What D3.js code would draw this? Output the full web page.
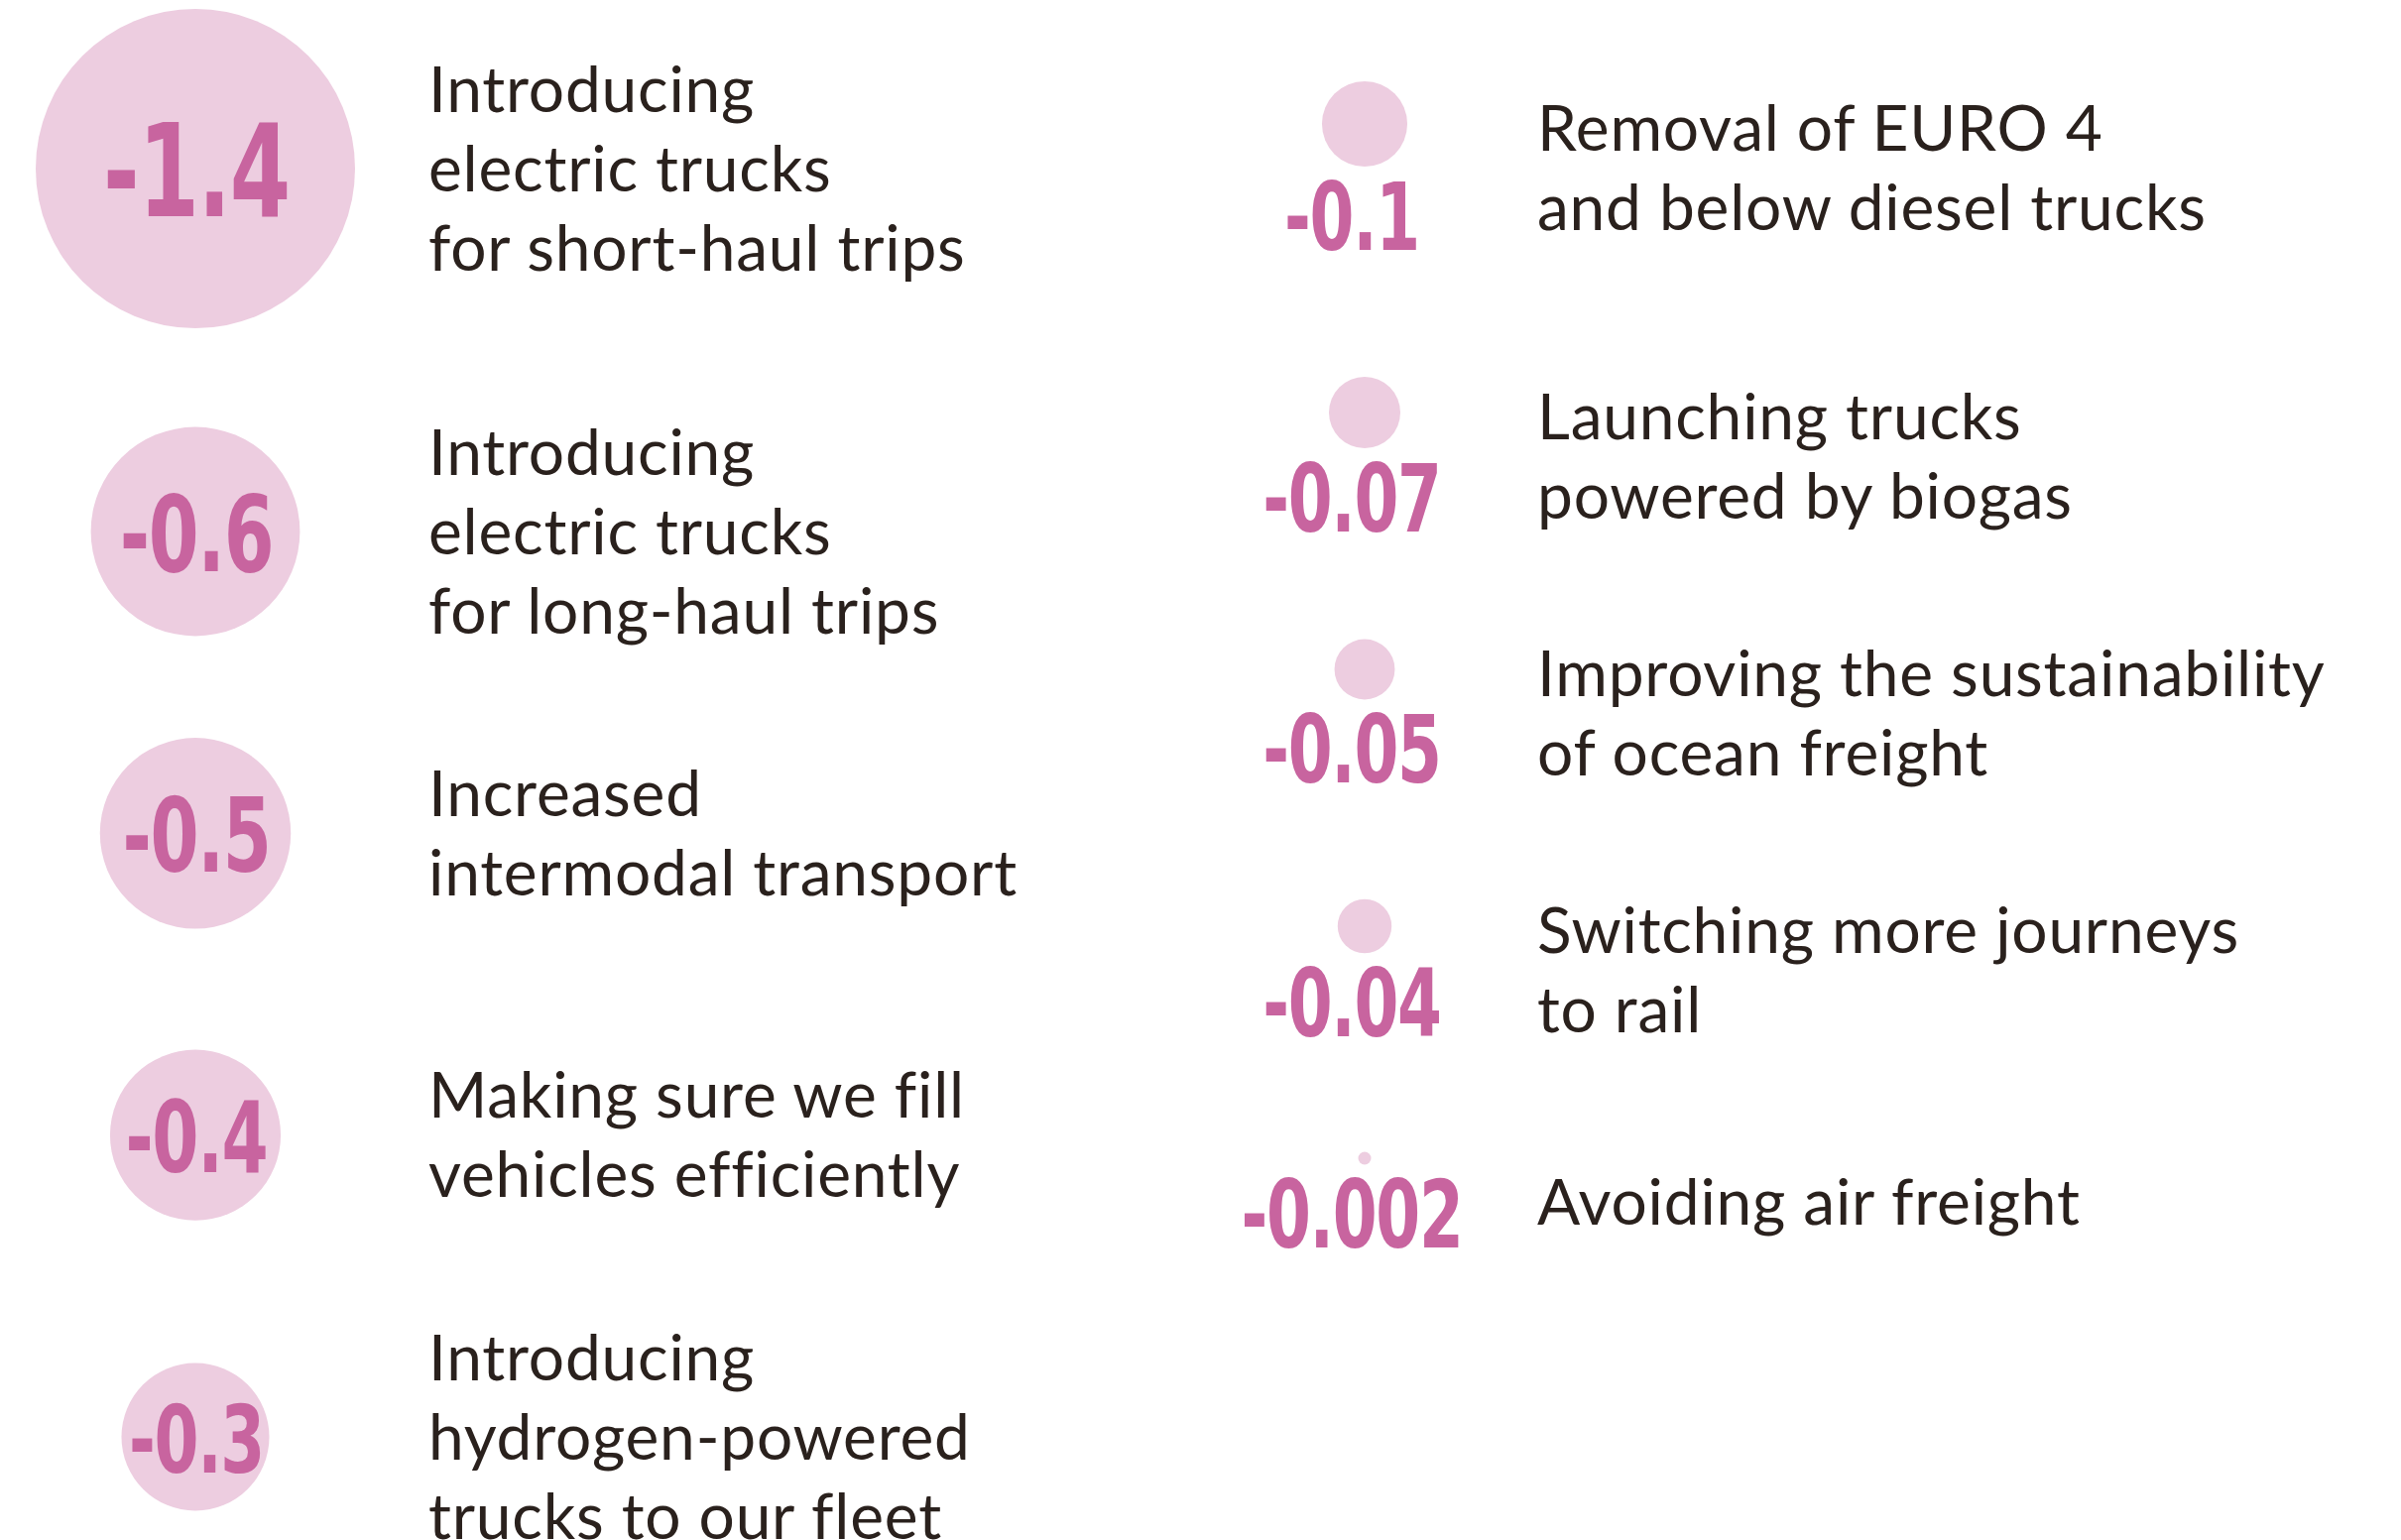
<!DOCTYPE html>
<html>
<head>
<meta charset="utf-8">
<script src="https://cdn.jsdelivr.net/npm/d3@7"></script>
<style>
  body { margin: 0; background: #ffffff; }
  .name { font-family: Lato, "Open Sans", sans-serif; font-size: 64px; letter-spacing: 0.8px; fill: #2a211d; }
  .value { font-family: "DejaVu Sans", sans-serif; font-weight: bold; fill: #c8649f; letter-spacing: -2px; }
</style>
</head>
<body>
<svg id="chart"></svg>
<script>
// left column: the big measures
var leftNames = [
    "Introducing\nelectric trucks\nfor short-haul trips",
    "Introducing\nelectric trucks\nfor long-haul trips",
    "Increased\nintermodal transport",
    "Making sure we fill\nvehicles efficiently",
    "Introducing\nhydrogen-powered\ntrucks to our fleet"
]
var leftValues = [-1.4, -0.6, -0.5, -0.4, -0.3]

// right column: the small measures
var rightNames = [
    "Removal of EURO 4\nand below diesel trucks",
    "Launching trucks\npowered by biogas",
    "Improving the sustainability\nof ocean freight",
    "Switching more journeys\nto rail",
    "Avoiding air freight"
]
var rightValues = [-0.1, -0.07, -0.05, -0.04, -0.002]

var screen = { width: 2421, height: 1553 }
var lineHeight = 80
var capHeight = 45
var squeeze = 0.68   // the value font is a narrow hand-lettered one

var svg = d3.select("#chart")
    .attr("width", screen.width)
    .attr("height", screen.height)

// bubble area is proportional to the saving
var rScale = d3.scaleSqrt()
    .domain([0, 1.4])
    .range([0, 161])

// label size grows with the bubble
var fontScale = d3.scaleLinear()
    .domain([74, 161])
    .range([95, 130])
    .clamp(true)

var leftY = d3.scaleLinear()
    .domain([0, 1, 4])
    .range([170, 536, 1449])

var rightY = d3.scaleLinear()
    .domain([0, 1, 3, 4])
    .range([169, 460, 978, 1212])

var makeTranslateString = function (x, y) {
    return "translate(" + x + "," + y + ")";
}

//writes a multi-line name, vertically centred on y
var drawName = function (target, name, x, y) {
    var lines = name.split("\n")
    var first = y - ((lines.length - 1) * lineHeight - capHeight) / 2
    var text = target.append("text")
        .classed("name", true)
        .attr("x", x)
        .attr("y", first)
    lines.forEach(function (line, i) {
        text.append("tspan")
            .attr("x", x)
            .attr("y", first + i * lineHeight)
            .text(line)
    })
}

var valueText = function (v) {
    return String(v)
}

// left column: label inside the bubble
var left = svg.append("g").classed("left", true)
var leftRows = left.selectAll("g")
    .data(leftValues)
    .enter()
    .append("g")
    .attr("transform", function (v, i) {
        return makeTranslateString(0, leftY(i))
    })

leftRows.append("circle")
    .attr("cx", 197)
    .attr("cy", 0)
    .attr("r", function (v) { return rScale(Math.abs(v)) })
    .attr("fill", "#edcde0")

leftRows.append("text")
    .classed("value", true)
    .attr("transform", makeTranslateString(198, 3) + " scale(" + squeeze + ",1)")
    .attr("text-anchor", "middle")
    .attr("dominant-baseline", "central")
    .attr("font-size", function (v) { return fontScale(rScale(Math.abs(v))) })
    .text(valueText)

leftRows.each(function (v, i) {
    drawName(d3.select(this), leftNames[i], 432, 0)
})

// right column: small bubble with the label under it
var right = svg.append("g").classed("right", true)
var rightRows = right.selectAll("g")
    .data(rightValues)
    .enter()
    .append("g")
    .attr("transform", function (v, i) {
        return makeTranslateString(0, rightY(i))
    })

var labelGap = 22
var labelHeight = 66
var unitHeight = function (v) {
    return 2 * rScale(Math.abs(v)) + labelGap + labelHeight
}

rightRows.append("circle")
    .attr("cx", 1376)
    .attr("cy", function (v) { return -unitHeight(v) / 2 + rScale(Math.abs(v)) })
    .attr("r", function (v) { return Math.max(6.5, rScale(Math.abs(v))) })
    .attr("fill", "#edcde0")

rightRows.append("text")
    .classed("value", true)
    .attr("transform", function (v) {
        return makeTranslateString(1363, unitHeight(v) / 2 - 4) + " scale(" + squeeze + ",1)"
    })
    .attr("text-anchor", "middle")
    .attr("font-size", 95)
    .text(valueText)

rightRows.each(function (v, i) {
    drawName(d3.select(this), rightNames[i], 1550, 0)
})
</script>
</body>
</html>
